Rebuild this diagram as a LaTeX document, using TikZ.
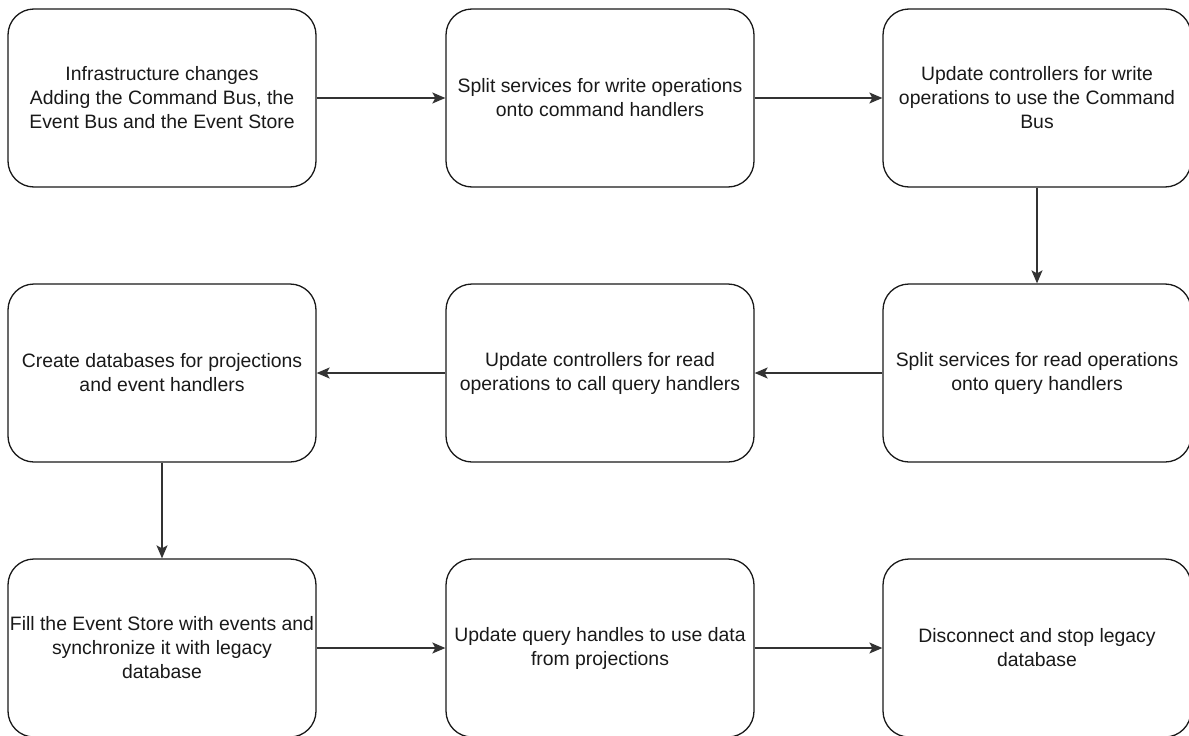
\documentclass[tikz,border=0pt]{standalone}
\usepackage{fontspec}
\setmainfont{Liberation Sans}
\usetikzlibrary{arrows.meta}
\begin{document}
\begin{tikzpicture}[x=1pt,y=-1pt,
  stepbox/.style={draw=black!90, line width=1.3pt, rounded corners=26pt,
    minimum width=308pt, minimum height=178pt, inner sep=0pt, align=center,
    font=\fontsize{19.4}{24}\selectfont, text=black!90},
  flow/.style={draw=black!80, line width=1.3pt, -{Stealth[length=13pt,width=11pt,inset=3pt]}}]
  \useasboundingbox (0,0) rectangle (1189,736);
  \begin{scope}
  \clip (0,0) rectangle (1189,736);
  % first row
  \node[stepbox] (infra) at (162,98) {Infrastructure changes\\Adding the Command Bus, the\\Event Bus and the Event Store};
  \node[stepbox] (splitw) at (600,98) {Split services for write operations\\onto command handlers};
  \node[stepbox] (ctrlw) at (1037,98) {Update controllers for write\\operations to use the Command\\Bus};
  % second row
  \node[stepbox] (splitr) at (1037,373) {Split services for read operations\\onto query handlers};
  \node[stepbox] (ctrlr) at (600,373) {Update controllers for read\\operations to call query handlers};
  \node[stepbox] (dbs) at (162,373) {Create databases for projections\\and event handlers};
  % third row
  \node[stepbox] (fill) at (162,648) {Fill the Event Store with events and\\synchronize it with legacy\\database};
  \node[stepbox] (query) at (600,648) {Update query handles to use data\\from projections};
  \node[stepbox] (stop) at (1037,648) {Disconnect and stop legacy\\database};
  % connectors
  \draw[flow] (infra) -- (splitw);
  \draw[flow] (splitw) -- (ctrlw);
  \draw[flow] (ctrlw) -- (splitr);
  \draw[flow] (splitr) -- (ctrlr);
  \draw[flow] (ctrlr) -- (dbs);
  \draw[flow] (dbs) -- (fill);
  \draw[flow] (fill) -- (query);
  \draw[flow] (query) -- (stop);
  \end{scope}
\end{tikzpicture}
\end{document}
